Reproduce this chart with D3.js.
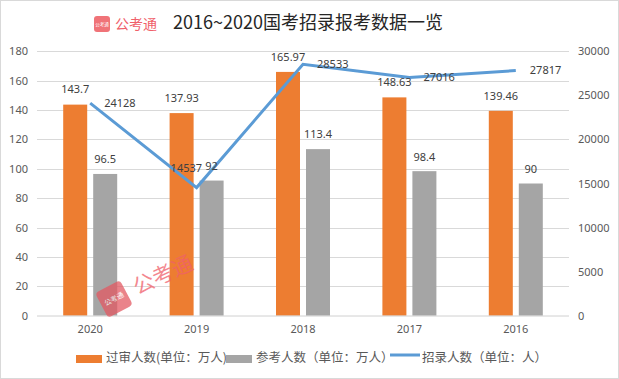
<!DOCTYPE html>
<html><head><meta charset="utf-8">
<script src="https://cdn.jsdelivr.net/npm/d3@7/dist/d3.min.js"></script>
<style>body{margin:0;background:#fff}svg{display:block;font-family:"Noto Sans CJK SC","Noto Sans",sans-serif}</style>
</head><body><svg id="c" width="619" height="379"></svg>
<script>
const categories = ["2020","2019","2018","2017","2016"];
const passed = [143.7,137.93,165.97,148.63,139.46];     // 过审人数(单位：万人)
const applied = [96.5,92,113.4,98.4,90];                 // 参考人数（单位：万人）
const recruited = [24128,14537,28533,27016,27817];       // 招录人数（单位：人）
const leftTicks = [0,20,40,60,80,100,120,140,160,180];
const rightTicks = [0,5000,10000,15000,20000,25000,30000];
const seriesNames = ["过审人数(单位：万人)","参考人数（单位：万人）","招录人数（单位：人）"];
const title = "2016~2020国考招录报考数据一览";

const C = {orange:"#ed7d31", gray:"#a5a5a5", blue:"#5b9bd5", grid:"#d9d9d9", tick:"#595959", label:"#404040"};
const svg = d3.select("#c");
svg.append("rect").attr("x",0.5).attr("y",0.5).attr("width",618).attr("height",378).attr("fill","#fff").attr("stroke","#d9d9d9");

const x = d3.scaleBand().domain(categories).range([37,569]);
const yL = d3.scaleLinear().domain([0,180]).range([315.7,51.3]);
const yR = d3.scaleLinear().domain([0,30000]).range([315.7,51.3]);
const x1 = d3.scaleBand().domain(["p","a"]).range([-27,27]).paddingInner(0.2);
const cx = c => x(c)+x.bandwidth()/2;

// gridlines
svg.append("g").selectAll("line").data(leftTicks.filter(d=>d>0)).join("line")
  .attr("x1",37).attr("x2",569).attr("y1",d=>Math.round(yL(d))+0.5).attr("y2",d=>Math.round(yL(d))+0.5)
  .attr("stroke",C.grid).attr("stroke-width",1);

// left axis
const gl = svg.append("g").attr("transform","translate(37,0)")
  .call(d3.axisLeft(yL).tickValues(leftTicks).tickSize(0).tickPadding(9));
gl.select(".domain").remove();
gl.selectAll("text").attr("fill",C.tick).style("font-size","11px").style("font-family","'Noto Sans',sans-serif");

// right axis
const gr = svg.append("g").attr("transform","translate(569,0)")
  .call(d3.axisRight(yR).tickValues(rightTicks).tickFormat(d3.format("d")).tickSize(0).tickPadding(9));
gr.select(".domain").remove();
gr.selectAll("text").attr("fill",C.tick).style("font-size","11px").style("font-family","'Noto Sans',sans-serif");

// bars
const bars = svg.append("g");
bars.selectAll("rect.p").data(categories).join("rect").attr("class","p")
  .attr("x",(c)=>cx(c)+x1("p")).attr("width",x1.bandwidth())
  .attr("y",(c,i)=>yL(passed[i])).attr("height",(c,i)=>yL(0)-yL(passed[i])).attr("fill",C.orange);
bars.selectAll("rect.a").data(categories).join("rect").attr("class","a")
  .attr("x",(c)=>cx(c)+x1("a")).attr("width",x1.bandwidth())
  .attr("y",(c,i)=>yL(applied[i])).attr("height",(c,i)=>yL(0)-yL(applied[i])).attr("fill",C.gray);

// x axis
const gx = svg.append("g").attr("transform","translate(0,316)")
  .call(d3.axisBottom(x).tickSize(0).tickPadding(9));
gx.select(".domain").attr("stroke","#d0d0d0").attr("d","M37,0H569");
gx.selectAll("text").attr("fill",C.tick).style("font-size","11px").style("font-family","'Noto Sans',sans-serif");

// watermark
const wm = svg.append("g").attr("opacity",0.75);
const sq = wm.append("g").attr("transform","translate(114,299) rotate(-28)");
sq.append("rect").attr("x",-14).attr("y",-14).attr("width",28).attr("height",28).attr("rx",4).attr("fill","#e35a63");
sq.append("text").attr("text-anchor","middle").attr("dy","0.35em").attr("fill","#fff").style("font-size","7px").text("公考通");
wm.append("text").attr("transform","translate(163,275) rotate(-25)").attr("text-anchor","middle").attr("dy","0.35em")
  .attr("fill","#f0606a").style("font-size","21px").text("公考通");

// line
svg.append("path").datum(recruited)
  .attr("d",d3.line().x((d,i)=>cx(categories[i])).y(d=>yR(d)))
  .attr("fill","none").attr("stroke",C.blue).attr("stroke-width",3).attr("stroke-linejoin","miter");

// data labels
const lab = svg.append("g").style("font-size","11px").style("font-family","'Noto Sans',sans-serif").attr("fill",C.label);
lab.selectAll("text.p").data(categories).join("text").attr("class","p").attr("text-anchor","middle")
  .attr("x",c=>cx(c)+x1("p")+x1.bandwidth()/2).attr("y",(c,i)=>yL(passed[i])-15).attr("dy","0.35em").text((c,i)=>passed[i]);
lab.selectAll("text.a").data(categories).join("text").attr("class","a").attr("text-anchor","middle")
  .attr("x",c=>cx(c)+x1("a")+x1.bandwidth()/2).attr("y",(c,i)=>yL(applied[i])-14.5).attr("dy","0.35em").text((c,i)=>applied[i]);
const lineLabelShift = [[0,0],[-40,-19],[0,0],[0,0],[0,0]];
lab.selectAll("text.r").data(categories).join("text").attr("class","r")
  .attr("x",(c,i)=>cx(c)+14+lineLabelShift[i][0]).attr("y",(c,i)=>yR(recruited[i])+lineLabelShift[i][1]).attr("dy","0.35em").text((c,i)=>recruited[i]);

// title + logo
svg.append("rect").attr("x",94).attr("y",16).attr("width",16).attr("height",16).attr("rx",3).attr("fill","#f07378");
svg.append("text").attr("x",102).attr("y",24).attr("dy","0.35em").attr("text-anchor","middle").attr("fill","#fff").style("font-size","4.5px").text("公考通");
svg.append("text").attr("x",115).attr("y",24).attr("dy","0.35em").attr("fill","#f0606a").style("font-size","14px").text("公考通");
svg.append("text").attr("x",173).attr("y",23).attr("dy","0.35em").attr("fill","#262626").style("font-size","18px").text(title);

// legend
const lg = svg.append("g").style("font-size","12.5px").attr("fill",C.tick);
lg.append("rect").attr("x",76).attr("y",355).attr("width",26).attr("height",8).attr("fill",C.orange);
lg.append("text").attr("x",106).attr("y",358).attr("dy","0.35em").text(seriesNames[0]);
lg.append("rect").attr("x",226).attr("y",355).attr("width",26).attr("height",8).attr("fill",C.gray);
lg.append("text").attr("x",256).attr("y",358).attr("dy","0.35em").text(seriesNames[1]);
lg.append("line").attr("x1",390).attr("x2",420).attr("y1",355).attr("y2",355).attr("stroke",C.blue).attr("stroke-width",3);
lg.append("text").attr("x",422).attr("y",358).attr("dy","0.35em").text(seriesNames[2]);
</script></body></html>
